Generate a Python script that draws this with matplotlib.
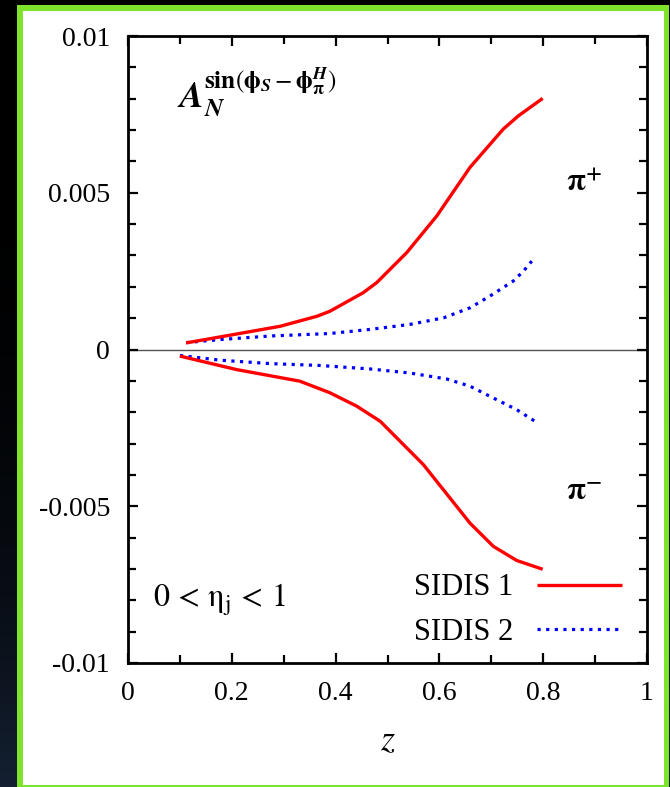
import numpy as np
import matplotlib
matplotlib.use("Agg")
import matplotlib.pyplot as plt
from matplotlib.patches import Rectangle
from matplotlib.ticker import MultipleLocator, FixedLocator, FixedFormatter

# ── Data ────────────────────────────────────────────────────────
z_pip_1 = [0.112, 0.184, 0.293, 0.364, 0.389, 0.453, 0.479, 0.537, 0.595, 0.659, 0.723, 0.752, 0.799]
a_pip_1 = [0.00021, 0.00042, 0.00074, 0.00106, 0.00122, 0.00181, 0.00213, 0.00309, 0.00426, 0.00581, 0.00703, 0.00745, 0.00801]

z_pip_2 = [0.112, 0.180, 0.274, 0.389, 0.466, 0.543, 0.608, 0.659, 0.697, 0.742, 0.762, 0.778]
a_pip_2 = [0.00022, 0.00032, 0.00043, 0.00051, 0.00064, 0.00080, 0.00101, 0.00133, 0.00170, 0.00218, 0.00250, 0.00282]

z_pim_1 = [0.100, 0.209, 0.331, 0.389, 0.441, 0.486, 0.569, 0.659, 0.704, 0.749, 0.799]
a_pim_1 = [-0.00021, -0.00064, -0.00101, -0.00138, -0.00181, -0.00229, -0.00367, -0.00554, -0.00628, -0.00673, -0.00701]

z_pim_2 = [0.100, 0.177, 0.274, 0.370, 0.466, 0.543, 0.614, 0.659, 0.697, 0.749, 0.787]
a_pim_2 = [-0.00019, -0.00034, -0.00045, -0.00051, -0.00062, -0.00075, -0.00094, -0.00117, -0.00149, -0.00192, -0.00232]

xticks      = [0, 0.2, 0.4, 0.6, 0.8, 1.0]
xticklabels = ["0", "0.2", "0.4", "0.6", "0.8", "1"]
yticks      = [-0.01, -0.005, 0, 0.005, 0.01]
yticklabels = ["-0.01", "-0.005", "0", "0.005", "0.01"]

# ── Style ───────────────────────────────────────────────────────
plt.rcParams["font.family"] = ["Liberation Serif", "DejaVu Serif"]
plt.rcParams["mathtext.fontset"] = "stix"
plt.rcParams["axes.unicode_minus"] = False

W, H = 670, 787
fig = plt.figure(figsize=(W / 100, H / 100), dpi=100)
fig.patch.set_facecolor("black")

# dark backdrop with a faint navy tint towards the bottom
bg = fig.add_axes([0, 0, 1, 1], zorder=-20)
grad = np.linspace(0, 1, 256)[:, None] ** 3
bg.imshow(grad, aspect="auto", extent=[0, 1, 0, 1], origin="upper",
          cmap=matplotlib.colors.LinearSegmentedColormap.from_list("bgc", ["#000000", "#142032"]))
bg.set_axis_off()

# green frame + white panel (figure pixels -> fraction)
def fr(x0, y0, x1, y1):
    return (x0 / W, 1 - y1 / H), (x1 - x0) / W, (y1 - y0) / H

xy, w, h = fr(17, 4.5, 669, 787)
fig.patches.append(Rectangle(xy, w, h, transform=fig.transFigure, facecolor="#7fe22b",
                             edgecolor="none", zorder=-10))
xy, w, h = fr(23, 10.5, 663.5, 785)
fig.patches.append(Rectangle(xy, w, h, transform=fig.transFigure, facecolor="white",
                             edgecolor="none", zorder=-9))

# ── Main axes ───────────────────────────────────────────────────
ax = fig.add_axes([128 / W, 1 - 663 / H, 519 / W, 627 / H])
ax.set_facecolor("white")

ax.plot(z_pip_1, a_pip_1, color="#ff0000", lw=2.4, solid_capstyle="butt", label="SIDIS 1", zorder=3)
ax.plot(z_pim_1, a_pim_1, color="#ff0000", lw=2.4, solid_capstyle="butt", zorder=3)
ax.plot(z_pip_2, a_pip_2, color="#0000ff", lw=2.3, linestyle=(0, (1, 1.7)),
        dash_capstyle="butt", label="SIDIS 2", zorder=2)
ax.plot(z_pim_2, a_pim_2, color="#0000ff", lw=2.3, linestyle=(0, (1, 1.7)),
        dash_capstyle="butt", zorder=2)

ax.axhline(0, color="#555555", lw=1.0, zorder=1)

ax.set_xlim(0, 1)
ax.set_ylim(-0.01, 0.01)
ax.xaxis.set_major_locator(FixedLocator(xticks))
ax.xaxis.set_major_formatter(FixedFormatter(xticklabels))
ax.xaxis.set_minor_locator(MultipleLocator(0.1))
ax.yaxis.set_major_locator(FixedLocator(yticks))
ax.yaxis.set_major_formatter(FixedFormatter(yticklabels))
ax.yaxis.set_minor_locator(MultipleLocator(0.001))

ax.tick_params(which="both", direction="in", top=True, right=True, width=1.6, colors="black")
ax.tick_params(which="major", length=7.5, pad=13, labelsize=20)
ax.tick_params(which="minor", length=6)
for s in ax.spines.values():
    s.set_linewidth(2.0)

ax.set_xlabel(r"$z$", fontsize=26, labelpad=14)

# ── Annotations ─────────────────────────────────────────────────
ax.text(0.094, 0.00773,
        r"$\mathbfit{A}_{\mathbfit{N}}^{\mathbf{sin}(\mathbf{\phi}_{\mathbfit{S}}-\mathbf{\phi}_{\mathbf{\pi}}^{\mathbfit{H}})}$",
        fontsize=26, va="baseline", ha="left")
ax.text(0.844, 0.00505, r"$\mathbf{\pi}^{\mathbf{+}}$", fontsize=22, va="baseline", ha="left")
ax.text(0.844, -0.0048, r"$\mathbf{\pi}^{\mathbf{-}}$", fontsize=22, va="baseline", ha="left")
ax.text(0.048, -0.0082, r"$0 \,<\, \mathrm{\eta_j} \,<\, 1$", fontsize=23, va="baseline", ha="left")

ax.legend(loc="lower right", bbox_to_anchor=(0.952, 0.026), frameon=False, markerfirst=False,
          fontsize=22, handlelength=2.78, handletextpad=0.78, labelspacing=0.5,
          borderpad=0, borderaxespad=0)

fig.savefig("out.png", dpi=100, facecolor=fig.get_facecolor())
